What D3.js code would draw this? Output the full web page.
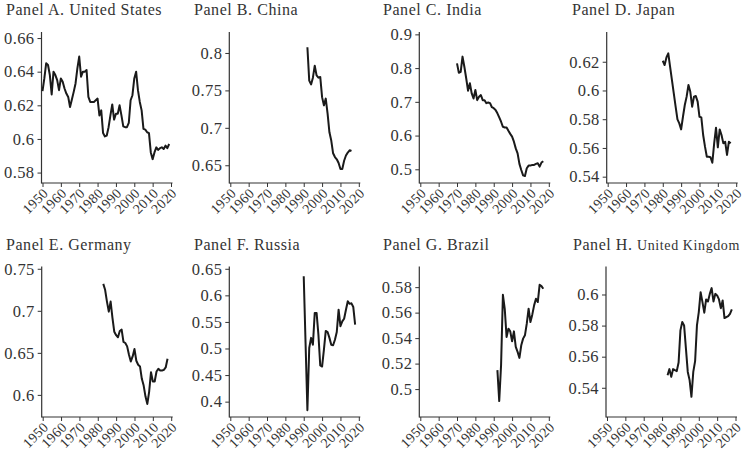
<!DOCTYPE html>
<html><head><meta charset="utf-8">
<script src="https://cdn.jsdelivr.net/npm/d3@7"></script>
<style>
html,body{margin:0;padding:0;background:#fff;}
svg{display:block;}
</style></head>
<body>
<svg id="chart" width="747" height="451"></svg>
<script>
// ---- data ----
const xTickYears = [1950,1960,1970,1980,1990,2000,2010,2020];

const usStart = 1950;
const usValues = [0.6285,0.636,0.645,0.644,0.638,0.6265,0.640,0.638,0.635,0.629,0.636,0.634,0.630,0.627,0.625,0.619,0.6235,0.628,0.633,0.642,0.649,0.637,0.640,0.640,0.641,0.625,0.622,0.622,0.622,0.623,0.624,0.614,0.617,0.6035,0.6015,0.602,0.607,0.614,0.6205,0.6115,0.615,0.615,0.620,0.614,0.6075,0.607,0.607,0.6095,0.623,0.626,0.636,0.640,0.629,0.622,0.617,0.606,0.6055,0.604,0.6035,0.592,0.588,0.592,0.595,0.5935,0.5945,0.595,0.594,0.596,0.5945,0.597];
const usTicks = [0.58,0.6,0.62,0.64,0.66];

const chinaStart = 1992;
const chinaValues = [0.8076,0.763,0.758,0.767,0.783,0.770,0.767,0.768,0.741,0.730,0.739,0.719,0.694,0.683,0.666,0.661,0.658,0.653,0.645,0.645,0.656,0.663,0.667,0.670,0.669];
const chinaTicks = [0.65,0.7,0.75,0.8];

const indiaStart = 1970;
const indiaValues = [0.814,0.786,0.789,0.834,0.804,0.770,0.733,0.755,0.725,0.710,0.735,0.705,0.715,0.720,0.705,0.705,0.696,0.698,0.696,0.684,0.681,0.676,0.666,0.654,0.641,0.626,0.624,0.624,0.614,0.605,0.597,0.582,0.562,0.547,0.516,0.498,0.482,0.480,0.503,0.511,0.511,0.513,0.513,0.516,0.518,0.508,0.520,0.524];
const indiaTicks = [0.5,0.6,0.7,0.8,0.9];

const japanStart = 1980;
const japanValues = [0.6207,0.6177,0.623,0.6258,0.6165,0.6072,0.598,0.5887,0.5799,0.5771,0.5729,0.5817,0.5899,0.5957,0.6038,0.5991,0.5887,0.5957,0.5961,0.5922,0.5817,0.5813,0.569,0.5609,0.5539,0.5539,0.5535,0.5497,0.5632,0.5741,0.5604,0.5729,0.569,0.5632,0.5643,0.5551,0.5643,0.5632];
const japanTicks = [0.54,0.56,0.58,0.6,0.62];

const germanyStart = 1983;
const germanyValues = [0.732,0.725,0.711,0.699,0.711,0.6915,0.675,0.671,0.6685,0.676,0.6776,0.663,0.6617,0.6577,0.6477,0.6398,0.6457,0.6545,0.6406,0.6358,0.6338,0.6191,0.6111,0.598,0.5892,0.604,0.627,0.6159,0.6159,0.6278,0.631,0.629,0.629,0.6298,0.6326,0.643];
const germanyTicks = [0.6,0.65,0.7,0.75];

const russiaStart = 1990;
const russiaValues = [0.636,0.51,0.384,0.501,0.52,0.507,0.567,0.567,0.526,0.468,0.466,0.498,0.533,0.531,0.520,0.507,0.506,0.5165,0.531,0.573,0.542,0.551,0.556,0.573,0.589,0.584,0.585,0.578,0.545];
const russiaTicks = [0.4,0.45,0.5,0.55,0.6,0.65];

const brazilStart = 1992;
const brazilValues = [0.5149,0.4906,0.5188,0.574,0.563,0.5409,0.5474,0.5453,0.5375,0.5453,0.5331,0.5292,0.5245,0.5344,0.5396,0.5422,0.5513,0.5631,0.5526,0.5584,0.5657,0.5709,0.5683,0.5818,0.5808,0.5787];
const brazilTicks = [0.5,0.52,0.54,0.56,0.58];

const ukStart = 1983;
const ukValues = [0.5481,0.552,0.547,0.552,0.5513,0.5507,0.5562,0.5769,0.5823,0.5801,0.5652,0.5502,0.5449,0.5342,0.5502,0.5571,0.5801,0.5887,0.6015,0.5951,0.5883,0.5968,0.5955,0.6004,0.6041,0.5955,0.6004,0.5994,0.5968,0.5912,0.5962,0.5848,0.5855,0.5861,0.5876,0.5904];
const ukTicks = [0.54,0.56,0.58,0.6];

// ---- panels (layout) ----
const panels = [
  {label:"Panel A.", name:"United States", start:usStart, values:usValues, ticks:usTicks, dom:[0.5738,0.6636], ax:41.5, tx:6, row:0},
  {label:"Panel B.", name:"China", start:chinaStart, values:chinaValues, ticks:chinaTicks, dom:[0.6263,0.828], ax:229.3, tx:194, row:0},
  {label:"Panel C.", name:"India", start:indiaStart, values:indiaValues, ticks:indiaTicks, dom:[0.4594,0.907], ax:419.3, tx:383, row:0},
  {label:"Panel D.", name:"Japan", start:japanStart, values:japanValues, ticks:japanTicks, dom:[0.5356,0.6407], ax:606.7, tx:572, row:0},
  {label:"Panel E.", name:"Germany", start:germanyStart, values:germanyValues, ticks:germanyTicks, dom:[0.5737,0.7527], ax:41.7, tx:6, row:1},
  {label:"Panel F.", name:"Russia", start:russiaStart, values:russiaValues, ticks:russiaTicks, dom:[0.3711,0.6543], ax:229.3, tx:194, row:1},
  {label:"Panel G.", name:"Brazil", start:brazilStart, values:brazilValues, ticks:brazilTicks, dom:[0.4781,0.5962], ax:419.3, tx:383, row:1},
  {label:"Panel H.", name:"United Kingdom", start:ukStart, values:ukValues, ticks:ukTicks, dom:[0.5212,0.618], ax:606, tx:573, row:1, smallName:true}
];
const rows = [{top:32, bottom:183, titleY:15}, {top:266.5, bottom:417, titleY:249.5}];
const SERIF = '"Liberation Serif","Times New Roman",serif';

const svg = d3.select("#chart");
svg.append("rect").attr("width",747).attr("height",451).attr("fill","#fff");

const fmt = v => String(+v.toFixed(3));

panels.forEach(p => {
  const r = rows[p.row];
  const g = svg.append("g");
  const x = d3.scaleLinear().domain([1950,2020]).range([p.ax+1, p.ax+129.5]);
  const y = d3.scaleLinear().domain(p.dom).range([r.bottom, r.top]);

  // title
  const t = g.append("text").attr("x", p.tx).attr("y", r.titleY)
    .style("font-family", SERIF).style("font-size","16px").style("letter-spacing","0.55px").style("fill","#333");
  if (p.smallName) {
    t.append("tspan").text(p.label + " ");
    t.append("tspan").style("font-size","14px").style("letter-spacing","0.6px").text(p.name);
  } else {
    t.text(p.label + " " + p.name);
  }

  // y axis
  const yAxis = d3.axisLeft(y).tickValues(p.ticks).tickSize(4).tickPadding(3).tickFormat(fmt);
  const ya = g.append("g").attr("transform", `translate(${p.ax},0)`).call(yAxis);
  ya.attr("font-family", null).attr("font-size", null);
  ya.select(".domain").remove();
  ya.append("line").attr("x1",0).attr("x2",0).attr("y1",r.top).attr("y2",r.bottom+0.5)
    .attr("stroke","#333").attr("stroke-width",1.2);
  ya.selectAll(".tick line").attr("stroke","#333").attr("stroke-width",1);
  ya.selectAll(".tick text").style("font-family", SERIF).style("font-size","16.5px")
    .style("letter-spacing","0.4px").style("fill","#333");

  // x axis
  const xAxis = d3.axisBottom(x).tickValues(xTickYears).tickSize(4).tickFormat(d3.format("d"));
  const xa = g.append("g").attr("transform", `translate(0,${r.bottom})`).call(xAxis);
  xa.attr("font-family", null).attr("font-size", null);
  xa.select(".domain").remove();
  xa.append("line").attr("x1",p.ax).attr("x2",p.ax+131).attr("y1",0).attr("y2",0)
    .attr("stroke","#333").attr("stroke-width",1.2);
  xa.selectAll(".tick line").attr("stroke","#333").attr("stroke-width",1);
  xa.selectAll(".tick text")
    .style("font-family", SERIF).style("font-size","14px").style("letter-spacing","0.3px").style("fill","#333")
    .attr("text-anchor","end").attr("y",0).attr("dy",0)
    .attr("transform","translate(6,11) rotate(-45)");

  // line
  const pts = p.values.map((v,i)=>({year:p.start+i, v}));
  g.append("path").datum(pts)
    .attr("fill","none").attr("stroke","#1a1a1a").attr("stroke-width",2)
    .attr("stroke-linejoin","round")
    .attr("d", d3.line().x(d=>x(d.year)).y(d=>y(d.v)));
});
</script>
</body></html>
